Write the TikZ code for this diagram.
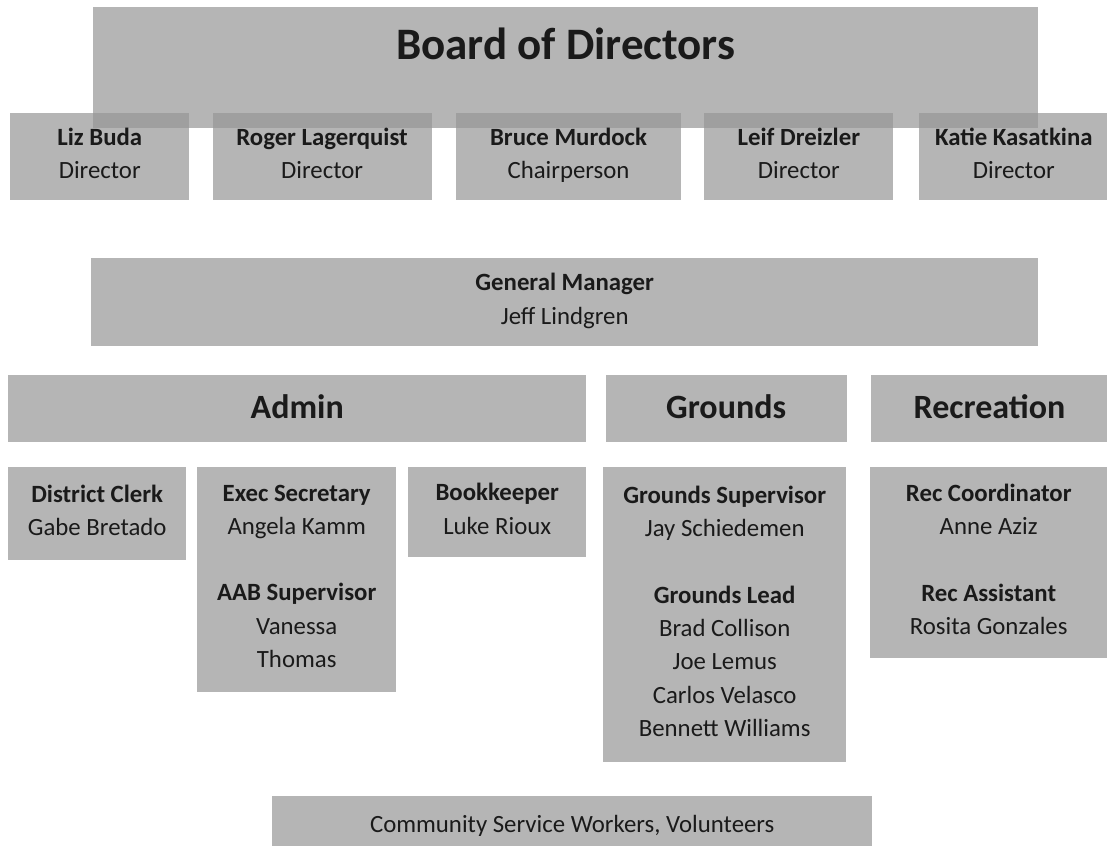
\documentclass[tikz,border=0pt]{standalone}
\usepackage{fontspec}
\setmainfont{Carlito}
\usepackage{xcolor}
\usepackage{tikz}
\usetikzlibrary{positioning}
\definecolor{boxgray}{RGB}{149,149,149}
\definecolor{inkblack}{RGB}{26,26,26}
\newcommand{\orgstrut}{\rule[-7pt]{0pt}{33.3pt}}

\begin{document}
\begin{tikzpicture}[x=1pt, y=-1pt,
    orgbox/.style={fill=boxgray, fill opacity=0.7, text opacity=1, text=inkblack, inner sep=0pt, align=center, font=\fontsize{24.8}{33.3}\selectfont, execute at begin node=\orgstrut, execute at end node=\orgstrut},
    headbox/.style={orgbox, minimum height=67pt, font=\fontsize{34}{40}\selectfont\bfseries}]
        \useasboundingbox (0,0) rectangle (1107,845);
        \node[orgbox, minimum width=945pt, minimum height=121pt, anchor=north west, font=\fontsize{45}{54}\selectfont\bfseries, text height=52.5pt, text depth=68.5pt] (board) at (93,7) {Board of Directors};
        \node[orgbox, minimum width=179pt, minimum height=87pt, anchor=north west] (liz) at (10,113) {\textbf{Liz Buda}\\Director};
        \node[orgbox, minimum width=219pt, minimum height=87pt, right=23pt of liz] (roger) {\textbf{Roger Lagerquist}\\Director};
        \node[orgbox, minimum width=225pt, minimum height=87pt, right=24pt of roger] (bruce) {\textbf{Bruce Murdock}\\Chairperson};
        \node[orgbox, minimum width=189pt, minimum height=87pt, right=23pt of bruce] (leif) {\textbf{Leif Dreizler}\\Director};
        \node[orgbox, minimum width=190pt, minimum height=87pt, right=25pt of leif] (katie) {\textbf{Katie Kasatkina}\\Director};
        \node[orgbox, minimum width=947pt, minimum height=88pt, anchor=north west] (gm) at (91,258) {\textbf{General Manager}\\Jeff Lindgren};
        \node[headbox, minimum width=578pt, anchor=north west] (admin) at (8,375) {Admin};
        \node[headbox, minimum width=241pt, right=19pt of admin] (grounds) {Grounds};
        \node[headbox, minimum width=237pt, right=24pt of grounds] (recreation) {Recreation};
        \node[orgbox, minimum width=178pt, minimum height=93pt, anchor=north west] (clerk) at (8,467) {\textbf{District Clerk}\\Gabe Bretado};
        \node[orgbox, minimum width=199pt, minimum height=225pt, anchor=north west] (secretary) at (197,467) {\textbf{Exec Secretary}\\Angela Kamm\\[33.3pt]\textbf{AAB Supervisor}\\Vanessa\\Thomas};
        \node[orgbox, minimum width=178pt, minimum height=90pt, anchor=north west] (bookkeeper) at (408,467) {\textbf{Bookkeeper}\\Luke Rioux};
        \node[orgbox, minimum width=243pt, minimum height=295pt, anchor=north west] (groundsstaff) at (603,467) {\textbf{Grounds Supervisor}\\Jay Schiedemen\\[33.3pt]\textbf{Grounds Lead}\\Brad Collison\\Joe Lemus\\Carlos Velasco\\Bennett Williams};
        \node[orgbox, minimum width=237pt, minimum height=191pt, anchor=north west] (recstaff) at (870,467) {\textbf{Rec Coordinator}\\Anne Aziz\\[33.3pt]\textbf{Rec Assistant}\\Rosita Gonzales};
        \node[orgbox, minimum width=600pt, minimum height=54pt, anchor=north west] (volunteers) at (272,796) {Community Service Workers, Volunteers};
    \end{tikzpicture}
\end{document}
